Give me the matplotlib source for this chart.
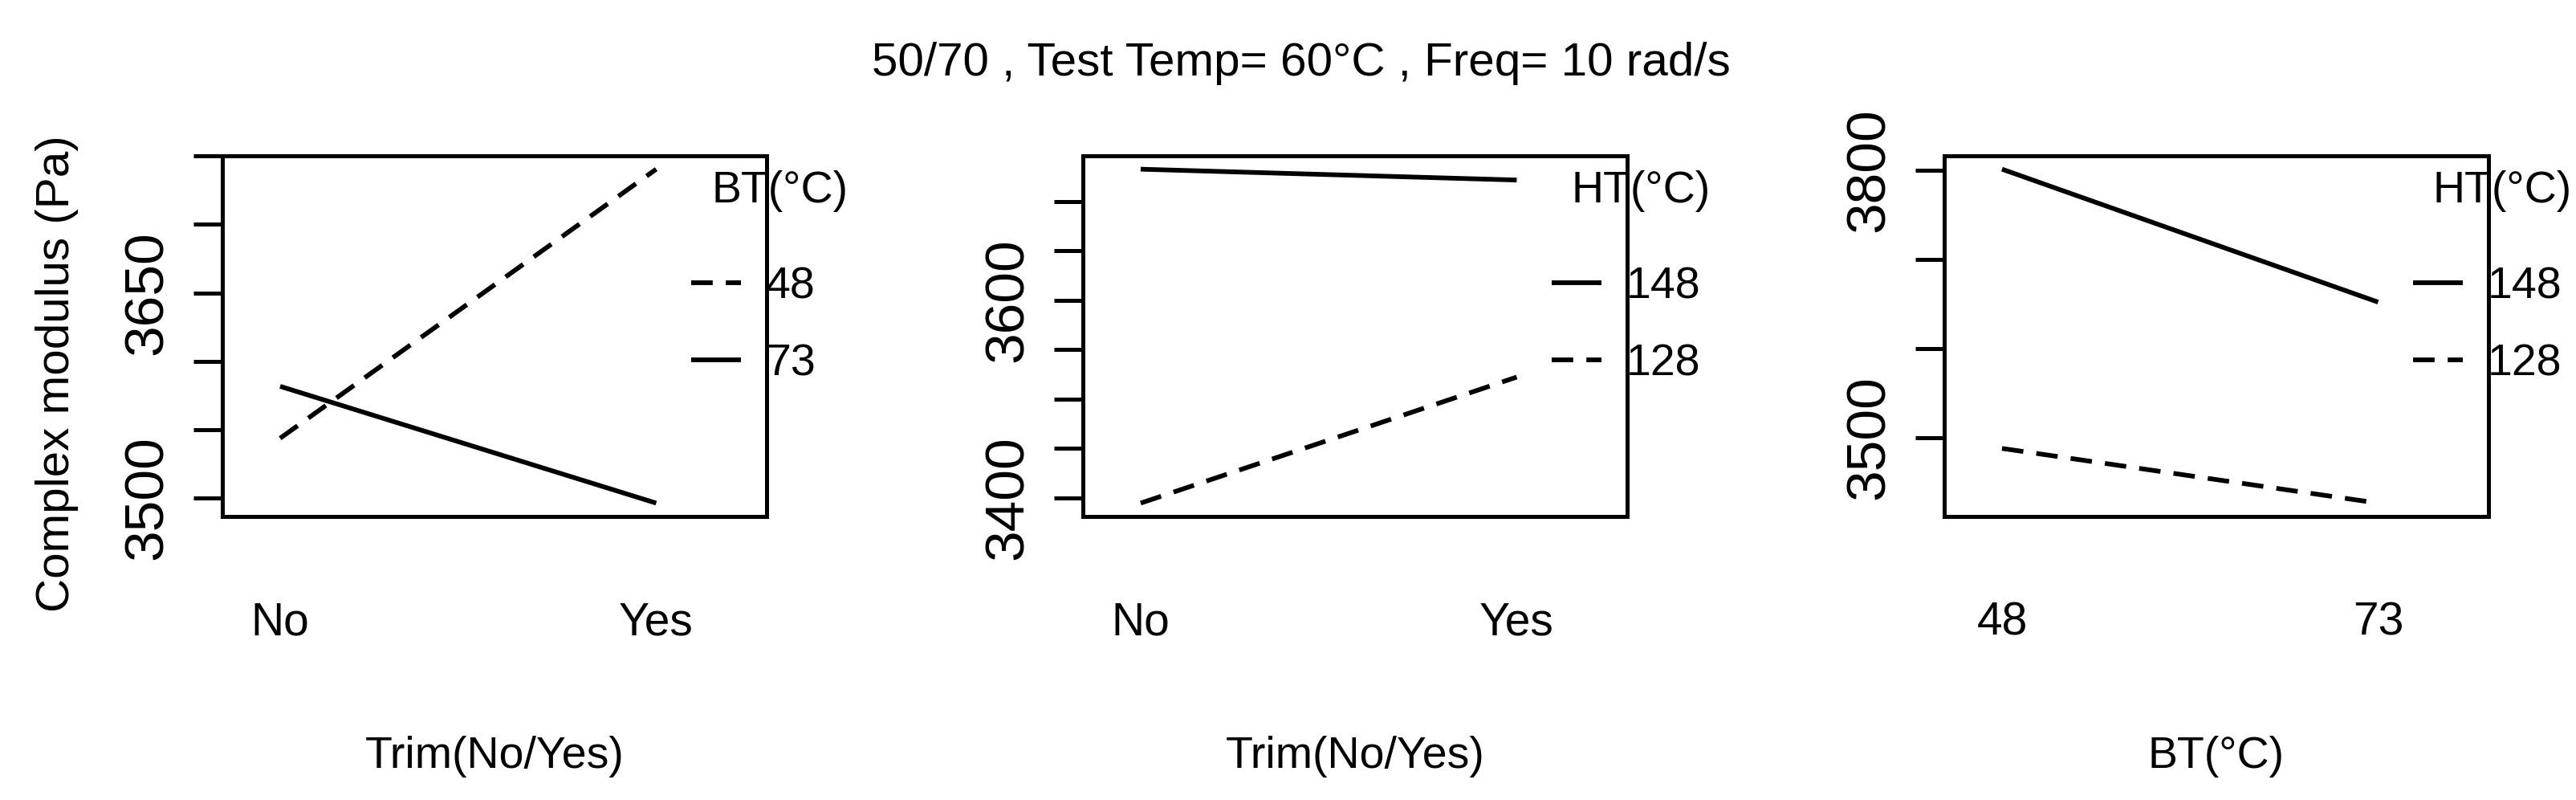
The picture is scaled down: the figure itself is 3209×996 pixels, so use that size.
import matplotlib
matplotlib.use('Agg')
import matplotlib.pyplot as plt

plt.rcParams['font.family'] = ['Liberation Sans', 'DejaVu Sans']

# ---- data ----
title = '50/70 , Test Temp= 60°C , Freq= 10 rad/s'
ylab = 'Complex modulus (Pa)'

# panel 1 : Trim x BT
p1_x = ['No', 'Yes']
p1_xlab = 'Trim(No/Yes)'
p1_trace = 'BT(°C)'
p1_names = ['48', '73']
p1_vals = [[3543.5, 3740.5], [3581.5, 3496.0]]
p1_yticks = [3500, 3550, 3600, 3650, 3700, 3750]
p1_ylabels = ['3500', '', '', '3650', '', '']

# panel 2 : Trim x HT
p2_x = ['No', 'Yes']
p2_xlab = 'Trim(No/Yes)'
p2_trace = 'HT(°C)'
p2_names = ['148', '128']
p2_vals = [[3732.6, 3721.6], [3394.5, 3522.1]]
p2_yticks = [3400, 3450, 3500, 3550, 3600, 3650, 3700]
p2_ylabels = ['3400', '', '', '', '3600', '', '']

# panel 3 : BT x HT
p3_x = ['48', '73']
p3_xlab = 'BT(°C)'
p3_trace = 'HT(°C)'
p3_names = ['148', '128']
p3_vals = [[3801.0, 3652.0], [3488.0, 3426.7]]
p3_yticks = [3500, 3600, 3700, 3800]
p3_ylabels = ['3500', '', '', '3800']

solid = '-'
dashed = (0, (4.6, 2.8))
p1_styles = [dashed, solid]
p2_styles = [solid, dashed]
p3_styles = [solid, dashed]

LW = 4.2
SPW = 3.6
FS = 40


def panel(ax, xl, xlab, trace, names, vals, styles, yt, ytl):
    xs = list(range(1, len(xl) + 1))
    lines = []
    for v, st in zip(vals, styles):
        ln, = ax.plot(xs, v, color='black', lw=LW, linestyle=st,
                      solid_capstyle='butt', dash_capstyle='butt')
        lines.append(ln)
    # same limits as R's interaction.plot
    n = len(xl)
    d = n - 1
    lo, hi = 1 - 0.2 / n * d, n + (0.2 + 0.02 * len(names)) * d
    pad = 0.04 * (hi - lo)
    ax.set_xlim(lo - pad, hi + pad)
    allv = [y for v in vals for y in v]
    ylo, yhi = min(allv), max(allv)
    pad = 0.04 * (yhi - ylo)
    ax.set_ylim(ylo - pad, yhi + pad)

    ax.set_xticks(xs)
    ax.set_xticklabels(xl, fontsize=FS + 1)
    ax.tick_params(axis='x', length=0, pad=76)
    ax.set_yticks(yt)
    ax.set_yticklabels(ytl)
    ax.tick_params(axis='y', direction='out', length=26, width=SPW, pad=18)
    for t in ax.get_yticklabels():
        t.set_rotation(90)
        t.set_va('center')
        t.set_fontsize(50)
    for s in ax.spines.values():
        s.set_linewidth(SPW)

    ax.set_xlabel(xlab, fontsize=FS)
    ax.xaxis.set_label_coords(0.5, -0.697)
    ax.xaxis.label.set_va('baseline')

    ax.legend(lines, names, loc='upper left', bbox_to_anchor=(0.862, 0.6933),
              frameon=False, borderpad=0, borderaxespad=0, handlelength=1.1,
              handletextpad=0.56, labelspacing=0.78, fontsize=FS)
    ax.text(1.025, 0.8715, trace, transform=ax.transAxes, ha='center',
            va='baseline', fontsize=FS)


fig = plt.figure(figsize=(32.09, 9.96), dpi=100)
W, H = 3209, 996
rects = []
for left in [277, 1349, 2422]:
    rects.append([left / W, (H - 643) / H, 678 / W, 449 / H])

ax1 = fig.add_axes(rects[0])
ax2 = fig.add_axes(rects[1])
ax3 = fig.add_axes(rects[2])
panel(ax1, p1_x, p1_xlab, p1_trace, p1_names, p1_vals, p1_styles, p1_yticks, p1_ylabels)
panel(ax2, p2_x, p2_xlab, p2_trace, p2_names, p2_vals, p2_styles, p2_yticks, p2_ylabels)
panel(ax3, p3_x, p3_xlab, p3_trace, p3_names, p3_vals, p3_styles, p3_yticks, p3_ylabels)

ax1.set_ylabel(ylab, fontsize=42)
ax1.yaxis.set_label_coords(-0.304, 0.3964)
ax1.yaxis.label.set_va('center')

fig.text(1621 / W, 1 - 94 / H, title, ha='center', va='baseline', fontsize=42)

fig.savefig('out.png', dpi=100)
